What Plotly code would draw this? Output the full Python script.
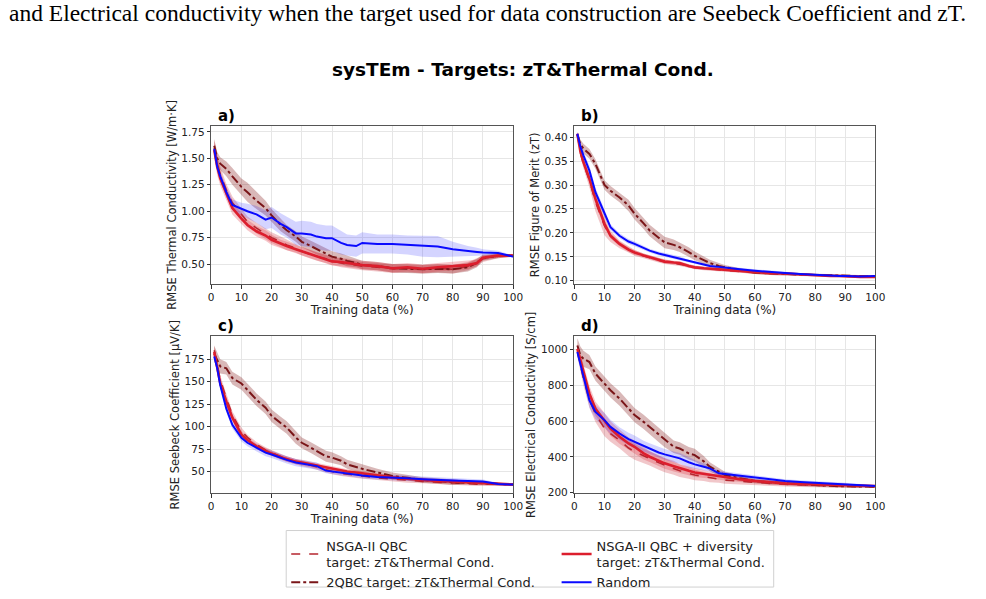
import plotly.graph_objects as go

# ---------------- data ----------------
X = [1, 2, 3, 5, 7, 10, 12, 15, 18, 20, 23, 25, 28, 30, 33, 35, 38, 40, 43, 45, 48, 50,
     55, 60, 65, 70, 75, 80, 85, 88, 90, 95, 100]

# panel a: Thermal conductivity
a_nsga = [1.60, 1.45, 1.35, 1.20, 1.08, 0.97, 0.90, 0.84, 0.79, 0.75, 0.71, 0.68, 0.65, 0.62, 0.59, 0.57,
          0.55, 0.53, 0.51, 0.50, 0.49, 0.48, 0.47, 0.455, 0.46, 0.45, 0.46, 0.45, 0.48, 0.52, 0.55, 0.575, 0.58]
a_nsga_sd = [0.08, 0.08, 0.07, 0.06, 0.06, 0.05, 0.05, 0.05, 0.05, 0.05, 0.05, 0.05, 0.04, 0.04, 0.04, 0.04,
             0.04, 0.04, 0.04, 0.04, 0.04, 0.04, 0.04, 0.04, 0.04, 0.04, 0.04, 0.04, 0.04, 0.04, 0.03, 0.02, 0.01]
a_2qbc = [1.62, 1.50, 1.45, 1.40, 1.33, 1.23, 1.18, 1.10, 1.03, 0.96, 0.87, 0.82, 0.76, 0.71, 0.67, 0.64,
          0.60, 0.57, 0.55, 0.53, 0.51, 0.49, 0.48, 0.46, 0.455, 0.45, 0.455, 0.45, 0.47, 0.51, 0.56, 0.575, 0.58]
a_2qbc_sd = [0.06, 0.06, 0.06, 0.07, 0.08, 0.08, 0.09, 0.08, 0.07, 0.06, 0.06, 0.05, 0.05, 0.05, 0.05, 0.05,
             0.05, 0.05, 0.05, 0.05, 0.04, 0.04, 0.04, 0.04, 0.04, 0.04, 0.04, 0.04, 0.04, 0.04, 0.03, 0.02, 0.01]
a_div = [1.58, 1.42, 1.31, 1.17, 1.03, 0.93, 0.87, 0.81, 0.77, 0.73, 0.69, 0.67, 0.64, 0.62, 0.59, 0.57,
         0.54, 0.525, 0.52, 0.51, 0.50, 0.49, 0.48, 0.46, 0.47, 0.455, 0.47, 0.48, 0.49, 0.51, 0.56, 0.58, 0.58]
a_div_sd = [0.08, 0.08, 0.07, 0.06, 0.06, 0.05, 0.05, 0.05, 0.05, 0.05, 0.04, 0.04, 0.04, 0.04, 0.04, 0.04,
            0.04, 0.04, 0.04, 0.04, 0.04, 0.04, 0.04, 0.04, 0.04, 0.04, 0.04, 0.04, 0.04, 0.03, 0.02, 0.02, 0.01]
a_rand = [1.59, 1.42, 1.33, 1.18, 1.06, 1.02, 1.00, 0.97, 0.92, 0.94, 0.88, 0.85, 0.79, 0.79, 0.78, 0.76,
          0.745, 0.745, 0.70, 0.68, 0.67, 0.70, 0.69, 0.69, 0.68, 0.67, 0.665, 0.64, 0.62, 0.615, 0.61, 0.605, 0.57]
a_rand_sd = [0.03, 0.03, 0.04, 0.05, 0.05, 0.06, 0.07, 0.08, 0.09, 0.10, 0.10, 0.10, 0.11, 0.12, 0.12, 0.12,
             0.12, 0.12, 0.11, 0.10, 0.10, 0.10, 0.09, 0.09, 0.09, 0.10, 0.10, 0.07, 0.05, 0.04, 0.03, 0.02, 0.01]

# panel b: Figure of merit
b_nsga = [0.405, 0.368, 0.345, 0.31, 0.265, 0.215, 0.193, 0.176, 0.165, 0.158, 0.152, 0.148, 0.143, 0.140,
          0.137, 0.135, 0.131, 0.128, 0.126, 0.125, 0.123, 0.122, 0.119, 0.117, 0.115, 0.114, 0.113, 0.112,
          0.110, 0.109, 0.109, 0.108, 0.108]
b_nsga_sd = [0.004, 0.008, 0.01, 0.015, 0.02, 0.02, 0.012, 0.008, 0.006, 0.006, 0.005, 0.005, 0.005, 0.005,
             0.004, 0.004, 0.004, 0.004, 0.004, 0.004, 0.003, 0.003, 0.003, 0.003, 0.003, 0.003, 0.003, 0.003,
             0.003, 0.003, 0.002, 0.002, 0.002]
b_2qbc = [0.405, 0.385, 0.376, 0.365, 0.344, 0.30, 0.288, 0.274, 0.257, 0.24, 0.22, 0.205, 0.19, 0.18,
          0.175, 0.17, 0.16, 0.152, 0.143, 0.137, 0.131, 0.128, 0.122, 0.117, 0.115, 0.114, 0.113, 0.112,
          0.111, 0.110, 0.110, 0.109, 0.109]
b_2qbc_sd = [0.005, 0.01, 0.01, 0.01, 0.01, 0.01, 0.01, 0.01, 0.012, 0.012, 0.012, 0.012, 0.012, 0.012,
             0.011, 0.01, 0.01, 0.009, 0.008, 0.007, 0.006, 0.005, 0.004, 0.003, 0.003, 0.003, 0.003, 0.003,
             0.003, 0.002, 0.002, 0.002, 0.002]
b_div = [0.407, 0.37, 0.348, 0.313, 0.271, 0.219, 0.194, 0.177, 0.165, 0.159, 0.153, 0.149, 0.143, 0.140,
         0.138, 0.137, 0.131, 0.128, 0.126, 0.125, 0.124, 0.123, 0.120, 0.117, 0.116, 0.115, 0.113, 0.112,
         0.110, 0.110, 0.109, 0.108, 0.108]
b_div_sd = [0.004, 0.006, 0.007, 0.008, 0.01, 0.008, 0.006, 0.005, 0.005, 0.005, 0.004, 0.004, 0.004, 0.004,
            0.004, 0.004, 0.004, 0.003, 0.003, 0.003, 0.003, 0.003, 0.003, 0.003, 0.003, 0.002, 0.002, 0.002,
            0.002, 0.002, 0.002, 0.002, 0.002]
b_rand = [0.407, 0.38, 0.362, 0.33, 0.285, 0.24, 0.212, 0.194, 0.182, 0.177, 0.168, 0.163, 0.157, 0.154,
          0.150, 0.147, 0.141, 0.138, 0.134, 0.131, 0.129, 0.128, 0.124, 0.121, 0.118, 0.116, 0.114, 0.112,
          0.111, 0.110, 0.110, 0.109, 0.110]
b_rand_sd = [0.004, 0.006, 0.008, 0.01, 0.01, 0.008, 0.006, 0.005, 0.005, 0.005, 0.004, 0.004, 0.004, 0.004,
             0.004, 0.004, 0.003, 0.003, 0.003, 0.003, 0.003, 0.003, 0.003, 0.003, 0.003, 0.002, 0.002, 0.002,
             0.002, 0.002, 0.002, 0.002, 0.002]

# panel c: Seebeck coefficient
c_nsga = [185, 168, 152, 132, 113, 95, 88, 80, 74, 71, 67, 64, 61, 59, 57, 55, 52, 50, 48, 47, 46, 45,
          43, 41.5, 40, 39, 38, 37, 36.5, 36, 36, 35.5, 35.5]
c_nsga_sd = [6, 6, 5, 5, 4, 4, 3, 3, 3, 3, 3, 3, 3, 3, 3, 3, 3, 3, 3, 3, 3, 3, 2.5, 2.5, 2.5, 2, 2, 2, 2,
             2, 2, 1.5, 1]
c_2qbc = [181, 174, 167, 165, 154, 148, 141, 130, 121, 112, 104, 99, 88, 82, 76.5, 73, 67, 65.5, 62, 58,
          55, 53, 49, 45, 43, 40.5, 39.5, 38, 37.5, 37, 37, 36, 35.5]
c_2qbc_sd = [9, 8, 8, 7, 7, 7, 7, 7, 7, 7, 7, 7, 7, 6, 6, 6, 6, 6, 5, 5, 5, 5, 4, 4, 3, 3, 3, 3, 2, 2, 2,
             1.5, 1]
c_div = [183, 165, 148, 128, 110, 91, 85, 78, 73, 70, 66, 64, 61, 60, 58, 56, 54, 53, 51, 50, 49, 48,
         45.5, 43.5, 42, 40.5, 39.5, 39, 38, 37.5, 37, 36, 35.5]
c_div_sd = [6, 6, 5, 5, 4, 4, 3, 3, 3, 3, 3, 3, 3, 3, 3, 3, 3, 3, 3, 2.5, 2.5, 2.5, 2, 2, 2, 2, 2, 2, 2,
            2, 2, 1.5, 1]
c_rand = [178, 165, 146, 120, 102, 87.5, 82, 76.5, 71, 69, 65, 63, 60, 59, 57, 56, 51, 50, 49, 48, 46,
          45.5, 44, 43.5, 42.5, 41.5, 40.5, 40, 39.5, 39, 39, 36, 35.5]
c_rand_sd = [3, 3, 3, 4, 4, 4, 4, 4, 4, 4, 4, 4, 4, 4, 4, 4, 3, 3, 3, 3, 3, 3, 3, 3, 3, 3, 3, 3, 2, 2, 2,
             1.5, 1]

# panel d: Electrical conductivity
d_nsga = [990, 910, 840, 720, 640, 560, 530, 494, 450, 429, 405, 392, 368, 354, 335, 322, 308, 299, 290,
          283, 275, 270, 263, 258, 252, 247, 243, 239, 237, 236, 235, 234, 233]
d_nsga_sd = [30, 40, 40, 45, 45, 45, 45, 45, 45, 45, 40, 40, 40, 40, 35, 35, 30, 30, 25, 25, 20, 20, 18,
             15, 15, 12, 12, 10, 10, 10, 8, 8, 6]
d_2qbc = [1024, 968, 950, 931, 866, 810, 773, 727, 671, 634, 596, 568, 522, 494, 457, 447, 420, 410, 375,
          345, 317, 299, 280, 265, 258, 252, 247, 243, 238, 236, 235, 234, 233]
d_2qbc_sd = [40, 50, 45, 40, 40, 40, 40, 40, 40, 40, 40, 40, 40, 40, 35, 35, 35, 35, 30, 25, 20, 18, 15,
             12, 12, 12, 10, 10, 10, 8, 8, 6, 6]
d_div = [1005, 940, 875, 754, 670, 606, 559, 513, 475, 457, 420, 401, 378, 364, 348, 336, 322, 313, 305,
         299, 290, 286, 275, 265, 258, 252, 249, 247, 243, 241, 239, 238, 237]
d_div_sd = [30, 40, 45, 45, 40, 40, 40, 40, 35, 35, 35, 30, 30, 30, 30, 25, 25, 25, 20, 20, 18, 18, 15,
            12, 12, 10, 10, 10, 8, 8, 8, 6, 6]
d_rand = [987, 920, 857, 717, 652, 606, 568, 531, 500, 485, 460, 447, 425, 414, 400, 392, 370, 358, 345,
          336, 308, 304, 293, 284, 275, 265, 260, 256, 250, 248, 247, 242, 237]
d_rand_sd = [20, 30, 35, 40, 40, 40, 40, 35, 35, 35, 30, 30, 30, 30, 30, 30, 30, 25, 20, 18, 15, 15, 12,
             12, 10, 10, 10, 10, 8, 8, 8, 6, 6]

names = ["NSGA-II QBC<br>target: zT&Thermal Cond.", "2QBC target: zT&Thermal Cond.",
         "NSGA-II QBC + diversity<br>target: zT&Thermal Cond.", "Random"]

panels = [
    ("a)", [(a_nsga, a_nsga_sd), (a_2qbc, a_2qbc_sd), (a_div, a_div_sd), (a_rand, a_rand_sd)],
     "RMSE Thermal Conductivity [W/m·K]", [0.31, 1.81], [0.5, 0.75, 1.0, 1.25, 1.5, 1.75], ".2f"),
    ("b)", [(b_nsga, b_nsga_sd), (b_2qbc, b_2qbc_sd), (b_div, b_div_sd), (b_rand, b_rand_sd)],
     "RMSE Figure of Merit (zT)", [0.093, 0.424], [0.10, 0.15, 0.20, 0.25, 0.30, 0.35, 0.40], ".2f"),
    ("c)", [(c_nsga, c_nsga_sd), (c_2qbc, c_2qbc_sd), (c_div, c_div_sd), (c_rand, c_rand_sd)],
     "RMSE Seebeck Coefficient [µV/K]", [25.7, 200.7], [50, 75, 100, 125, 150, 175], "d"),
    ("d)", [(d_nsga, d_nsga_sd), (d_2qbc, d_2qbc_sd), (d_div, d_div_sd), (d_rand, d_rand_sd)],
     "RMSE Electrical Conductivity [S/cm]", [196, 1076], [200, 400, 600, 800, 1000], "d"),
]

# ---------------- styles ----------------
W, H = 986, 599
line_styles = [
    dict(color="#b5262f", width=1.6, dash="dash"),
    dict(color="#7a1518", width=2.0, dash="dashdot"),
    dict(color="#dc1e2d", width=2.6, dash="solid"),
    dict(color="#0a0aff", width=2.0, dash="solid"),
]
band_colors = ["rgba(200,40,50,0.26)", "rgba(128,20,20,0.3)", "rgba(225,40,55,0.26)", "rgba(40,40,255,0.2)"]
legend_ids = ["legend", "legend", "legend2", "legend2"]

xdoms = [[211 / W, 517 / W], [579 / W, 884 / W]]
ydoms = [[1 - 286.5 / H, 1 - 126.7 / H], [1 - 497.5 / H, 1 - 339 / H]]

fig = go.Figure()
font_main = "DejaVu Sans"

for p, (label, series, ytitle, yr, yticks, fmt) in enumerate(panels):
    row, col = divmod(p, 2)
    ax = "" if p == 0 else str(p + 1)
    xref, yref = "x" + ax, "y" + ax
    for s, (mean, sd) in enumerate(series):
        upper = [m + d for m, d in zip(mean, sd)]
        lower = [m - d for m, d in zip(mean, sd)]
        fig.add_trace(go.Scatter(x=X, y=upper, mode="lines", line=dict(width=0), showlegend=False,
                                 hoverinfo="skip", xaxis=xref, yaxis=yref))
        fig.add_trace(go.Scatter(x=X, y=lower, mode="lines", line=dict(width=0), fill="tonexty",
                                 fillcolor=band_colors[s], showlegend=False, hoverinfo="skip",
                                 xaxis=xref, yaxis=yref))
    for s, (mean, sd) in enumerate(series):
        fig.add_trace(go.Scatter(x=X, y=mean, mode="lines", line=line_styles[s], name=names[s],
                                 showlegend=(p == 0), legend=legend_ids[s], xaxis=xref, yaxis=yref))
    axis_common = dict(showline=True, linecolor="#555555", linewidth=1, mirror=True,
                       showgrid=True, gridcolor="#e6e6e6", gridwidth=1, zeroline=False,
                       ticks="outside", ticklen=3.5, tickcolor="#333333",
                       tickfont=dict(family=font_main, size=10.5, color="#222222"))
    fig.layout["xaxis" + ax] = dict(axis_common, domain=xdoms[col], range=[0, 100], dtick=10, tick0=0,
                                    anchor=yref,
                                    title=dict(text="Training data (%)", standoff=1,
                                               font=dict(family=font_main, size=12, color="#222222")))
    fig.layout["yaxis" + ax] = dict(axis_common, domain=ydoms[row], range=yr, tickvals=yticks,
                                    tickformat=fmt, anchor=xref,
                                    title=dict(text=ytitle, standoff=2,
                                               font=dict(family=font_main, size=11.5, color="#222222")))
    fig.add_annotation(text="<b>" + label + "</b>", xref="paper", yref="paper",
                       x=xdoms[col][0] + 5 / W, y=ydoms[row][1], xanchor="left", yanchor="bottom",
                       yshift=-1, showarrow=False, font=dict(family=font_main, size=15, color="black"))

# title and header text
fig.add_annotation(text="<b>sysTEm - Targets: zT&Thermal Cond.</b>", xref="paper", yref="paper",
                   x=527 / W, y=1 - 70 / H, xanchor="center", yanchor="middle", showarrow=False,
                   font=dict(family=font_main, size=18.5, color="black"))
fig.add_annotation(text="and Electrical conductivity when the target used for data construction are Seebeck Coefficient and zT.",
                   xref="paper", yref="paper", x=491 / W, y=1 - 13 / H, xanchor="center", yanchor="middle",
                   showarrow=False, font=dict(family="Liberation Serif", size=23.5, color="black"))

# legend frame
fig.add_shape(type="rect", xref="paper", yref="paper", x0=287 / W, x1=781 / W, y0=1 - 592 / H,
              y1=1 - 535 / H, line=dict(color="#d0d0d0", width=1), fillcolor="rgba(0,0,0,0)", layer="above")

leg_common = dict(bgcolor="rgba(0,0,0,0)", borderwidth=0, xanchor="left", yanchor="top",
                  font=dict(family=font_main, size=13, color="#222222"), tracegroupgap=0, itemwidth=30,
                  traceorder="normal")
fig.update_layout(
    width=W, height=H, margin=dict(l=0, r=0, t=0, b=0),
    paper_bgcolor="white", plot_bgcolor="white",
    legend=dict(leg_common, x=287 / W, y=1 - 535 / H),
    legend2=dict(leg_common, x=561 / W, y=1 - 535 / H),
)

fig.write_html("out.html")
